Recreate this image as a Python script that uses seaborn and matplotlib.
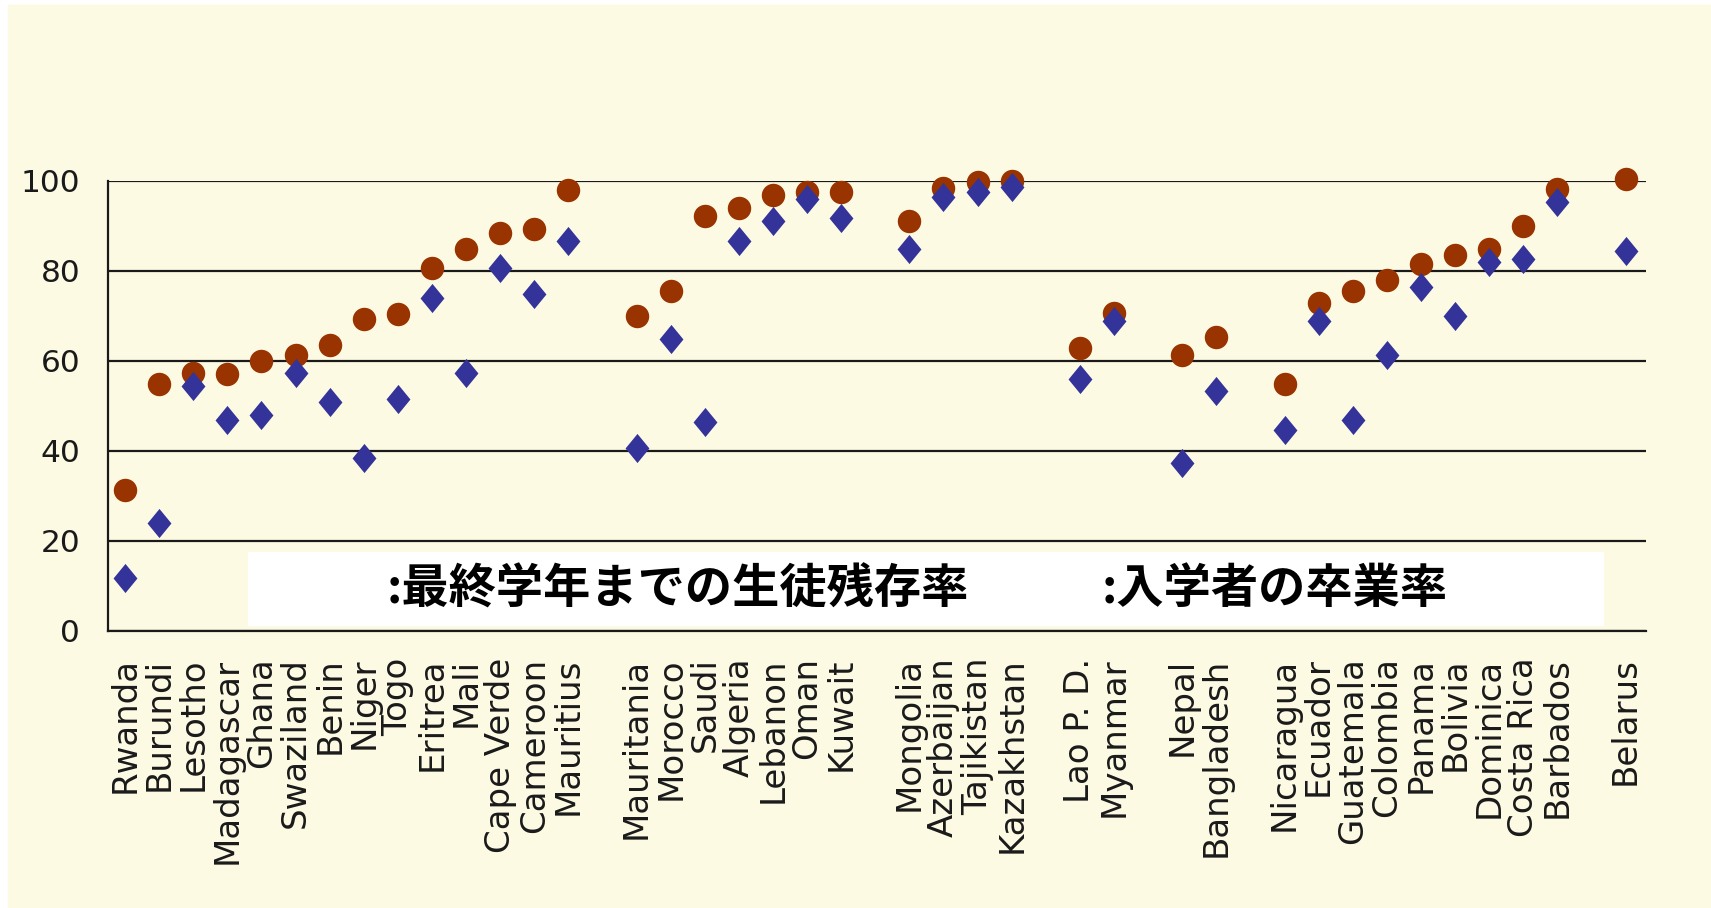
import matplotlib.pyplot as plt
import matplotlib.patches as mpatches
import numpy as np
import pandas as pd
import seaborn as sns

# country groups (one empty slot between groups)
groups = [
    ["Rwanda", "Burundi", "Lesotho", "Madagascar", "Ghana", "Swaziland", "Benin",
     "Niger", "Togo", "Eritrea", "Mali", "Cape Verde", "Cameroon", "Mauritius"],
    ["Mauritania", "Morocco", "Saudi", "Algeria", "Lebanon", "Oman", "Kuwait"],
    ["Mongolia", "Azerbaijan", "Tajikistan", "Kazakhstan"],
    ["Lao P. D.", "Myanmar"],
    ["Nepal", "Bangladesh"],
    ["Nicaragua", "Ecuador", "Guatemala", "Colombia", "Panama", "Bolivia",
     "Dominica", "Costa Rica", "Barbados"],
    ["Belarus"],
]

# survival rate to last grade (brown circles)
survival = [31.3, 54.8, 57.3, 57.1, 60.1, 61.3, 63.6, 69.3, 70.4, 80.7, 84.8, 88.4, 89.4, 98.1,
            70.0, 75.6, 92.3, 94.1, 96.9, 97.6, 97.5,
            91.2, 98.4, 99.8, 100.0,
            63.0, 70.6,
            61.3, 65.3,
            55.0, 72.8, 75.6, 77.9, 81.5, 83.6, 84.9, 90.0, 98.2,
            100.4]

# completion rate of entrants (blue diamonds)
completion = [11.8, 24.1, 54.4, 47.0, 48.0, 57.4, 51.0, 38.4, 51.6, 74.1, 57.4, 80.7, 75.0, 86.7,
              40.6, 64.8, 46.4, 86.7, 91.2, 95.9, 91.7,
              84.9, 96.5, 97.5, 98.6,
              56.1, 68.9,
              37.3, 53.3,
              44.7, 68.9, 47.0, 61.3, 76.4, 69.9, 82.1, 82.6, 95.3,
              84.4]

label_survival = ":最終学年までの生徒残存率"
label_completion = ":入学者の卒業率"

countries, pos = [], []
p = 0
for g in groups:
    for c in g:
        countries.append(c)
        pos.append(p)
        p += 1
    p += 1

df = pd.DataFrame({"country": countries, "pos": pos,
                   "survival": survival, "completion": completion})

bg = "#FDFAE4"
sns.set_theme(style="white")
plt.rcParams["font.family"] = ["DejaVu Sans"]

fig = plt.figure(figsize=(17.11, 9.08), dpi=100, facecolor="white")
fig.patches.append(mpatches.Rectangle((8 / 1711, 0), 1, 1 - 5 / 908,
                                      transform=fig.transFigure, color=bg, zorder=-10))
ax = fig.add_axes([108 / 1711, 277 / 908, 1538 / 1711, 450 / 908])
ax.set_facecolor(bg)
ax.patch.set_alpha(0)

diamond = [(0, 1), (0.82, 0), (0, -1), (-0.82, 0), (0, 1)]

sns.scatterplot(data=df, x="pos", y="survival", ax=ax, color="#993300",
                marker="o", s=285, linewidth=0, zorder=4, clip_on=False)
sns.scatterplot(data=df, x="pos", y="completion", ax=ax, color="#333399",
                marker=diamond, s=440, linewidth=0, zorder=5, clip_on=False)

ax.set_xlim(-0.5, 44.6)
ax.set_ylim(0, 100)
ax.set_yticks([0, 20, 40, 60, 80, 100])
ax.set_xticks(df["pos"])
ax.set_xticklabels(df["country"], rotation=90)
ax.set_xlabel("")
ax.set_ylabel("")
ax.tick_params(axis="both", length=0, colors="#1a1a1a")
ax.tick_params(axis="y", pad=20, labelsize=22.5)
ax.tick_params(axis="x", pad=19, labelsize=24.5)

ax.yaxis.grid(True, color="#1a1a1a", linewidth=1.6)
ax.set_axisbelow(True)
for s in ["top", "right"]:
    ax.spines[s].set_visible(False)
for s in ["left", "bottom"]:
    ax.spines[s].set_color("#1a1a1a")
    ax.spines[s].set_linewidth(1.6)

# legend area: white box with labels (markers missing in original)
ax.add_patch(mpatches.Rectangle((0.091, 0.011), 0.882, 0.164, transform=ax.transAxes,
                                facecolor="white", edgecolor="none", zorder=3))
ax.text(7.68, 9.3, label_survival, fontsize=34, fontweight="bold", color="black",
        family=["Noto Sans CJK JP", "DejaVu Sans"], va="center", ha="left", zorder=6)
ax.text(28.64, 9.3, label_completion, fontsize=34, fontweight="bold", color="black",
        family=["Noto Sans CJK JP", "DejaVu Sans"], va="center", ha="left", zorder=6)

fig.savefig("out.png", dpi=100, facecolor=fig.get_facecolor())
